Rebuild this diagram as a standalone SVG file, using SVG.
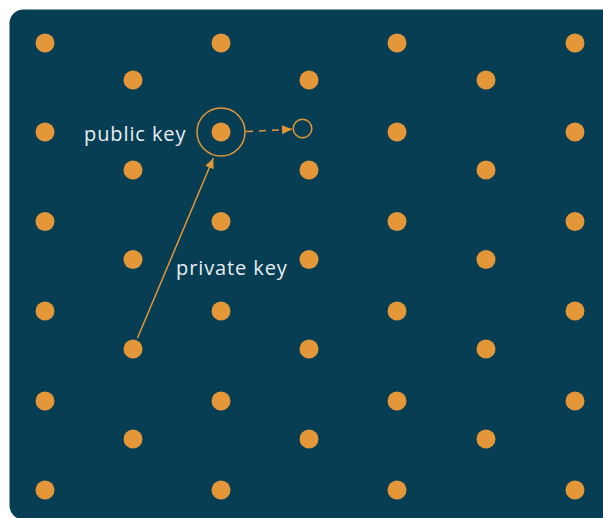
<svg xmlns="http://www.w3.org/2000/svg" width="603" height="518" viewBox="0 0 603 518">
<style>
.dot{fill:#E39738}
.lbl{font-family:"Open Sans","Noto Sans",sans-serif;font-size:20px;font-weight:500;fill:#E8EEF1;letter-spacing:0.9px}
.ln{stroke:#E39738;stroke-width:1.5;fill:none}
</style>
<defs>
<marker id="ah" viewBox="0 0 10 10" refX="10" refY="5" markerWidth="10" markerHeight="10" markerUnits="userSpaceOnUse" orient="auto">
<path d="M0,0.5 L10,5 L0,9.5 Z" fill="#E39738"/>
</marker>
</defs>
<rect x="9.5" y="9.5" width="630" height="510" rx="14" fill="#073E53"/>
<g id="lattice">
<circle class="dot" cx="45" cy="43" r="9.5"/><circle class="dot" cx="45" cy="132" r="9.5"/><circle class="dot" cx="45" cy="221.5" r="9.5"/><circle class="dot" cx="45" cy="311" r="9.5"/><circle class="dot" cx="45" cy="401" r="9.5"/><circle class="dot" cx="45" cy="490" r="9.5"/>
<circle class="dot" cx="221" cy="43" r="9.5"/><circle class="dot" cx="221" cy="221.5" r="9.5"/><circle class="dot" cx="221" cy="311" r="9.5"/><circle class="dot" cx="221" cy="401" r="9.5"/><circle class="dot" cx="221" cy="490" r="9.5"/>
<circle class="dot" cx="397" cy="43" r="9.5"/><circle class="dot" cx="397" cy="132" r="9.5"/><circle class="dot" cx="397" cy="221.5" r="9.5"/><circle class="dot" cx="397" cy="311" r="9.5"/><circle class="dot" cx="397" cy="401" r="9.5"/><circle class="dot" cx="397" cy="490" r="9.5"/>
<circle class="dot" cx="575" cy="43" r="9.5"/><circle class="dot" cx="575" cy="132" r="9.5"/><circle class="dot" cx="575" cy="221.5" r="9.5"/><circle class="dot" cx="575" cy="311" r="9.5"/><circle class="dot" cx="575" cy="401" r="9.5"/><circle class="dot" cx="575" cy="490" r="9.5"/>
<circle class="dot" cx="133" cy="80" r="9.5"/><circle class="dot" cx="133" cy="170" r="9.5"/><circle class="dot" cx="133" cy="259.5" r="9.5"/><circle class="dot" cx="133" cy="439" r="9.5"/>
<circle class="dot" cx="309" cy="80" r="9.5"/><circle class="dot" cx="309" cy="170" r="9.5"/><circle class="dot" cx="309" cy="259.5" r="9.5"/><circle class="dot" cx="309" cy="349" r="9.5"/><circle class="dot" cx="309" cy="439" r="9.5"/>
<circle class="dot" cx="486" cy="80" r="9.5"/><circle class="dot" cx="486" cy="170" r="9.5"/><circle class="dot" cx="486" cy="259.5" r="9.5"/><circle class="dot" cx="486" cy="349" r="9.5"/><circle class="dot" cx="486" cy="439" r="9.5"/>
</g>
<g id="private-key">
<circle class="dot" cx="133" cy="349" r="9.5"/>
<text class="lbl" x="176" y="275">private key</text>
</g>
<g id="public-key">
<circle class="dot" cx="221" cy="132" r="9.5"/>
<circle class="ln" cx="221" cy="132" r="24"/>
<text class="lbl" x="84" y="140.5">public key</text>
</g>
<g id="target">
<circle class="ln" cx="302.5" cy="128.5" r="9.3"/>
</g>
<g id="connectors">
<line class="ln" x1="137.5" y1="338" x2="213.3" y2="158.3" marker-end="url(#ah)"/>
<line class="ln" x1="246" y1="131.5" x2="292" y2="129.3" stroke-dasharray="7,6" marker-end="url(#ah)"/>
</g>
</svg>
